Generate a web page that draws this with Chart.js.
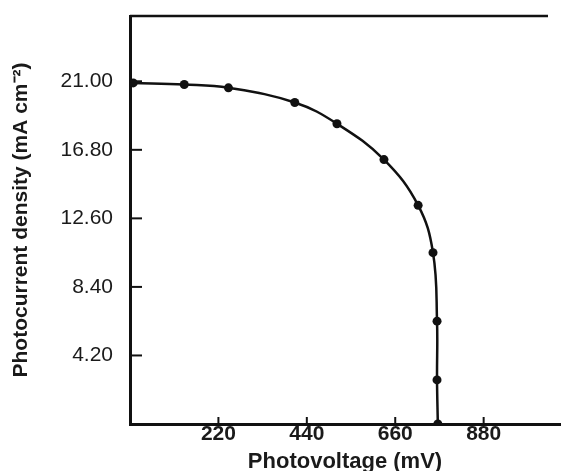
<!DOCTYPE html>
<html>
<head>
<meta charset="utf-8">
<script src="https://cdn.jsdelivr.net/npm/chart.js@4"></script>
<style>
  html, body { margin: 0; padding: 0; background: #fff; }
  #wrap { width: 570px; height: 471px; position: relative; }
</style>
</head>
<body>
<div id="wrap"><canvas id="chart"></canvas></div>
<script>
// J-V curve
const voltage = [8, 135, 245, 410, 515, 632, 717, 754, 764, 764, 766];
const current = [20.9, 20.8, 20.6, 19.7, 18.4, 16.2, 13.4, 10.5, 6.3, 2.7, 0];

const xTicks = [220, 440, 660, 880];
const yTicks = [4.2, 8.4, 12.6, 16.8, 21.0];

const ink = "#111";

// inward tick marks + open top frame line
const frame = {
  id: "frame",
  afterDraw(chart) {
    const { ctx, chartArea, scales } = chart;
    ctx.save();
    ctx.strokeStyle = ink;
    ctx.lineWidth = 2;
    yTicks.forEach(v => {
      const y = scales.y.getPixelForValue(v);
      ctx.beginPath();
      ctx.moveTo(chartArea.left, y);
      ctx.lineTo(chartArea.left + 12, y);
      ctx.stroke();
    });
    xTicks.forEach(v => {
      const x = scales.x.getPixelForValue(v);
      ctx.beginPath();
      ctx.moveTo(x, chartArea.bottom);
      ctx.lineTo(x, chartArea.bottom - 7);
      ctx.stroke();
    });
    ctx.lineWidth = 2.5;
    ctx.beginPath();
    ctx.moveTo(chartArea.left, chartArea.top);
    ctx.lineTo(chartArea.right - 12, chartArea.top);
    ctx.stroke();
    ctx.restore();
  }
};

new Chart(document.getElementById("chart"), {
  type: "scatter",
  data: {
    datasets: [{
      data: voltage.map((v, i) => ({ x: v, y: current[i] })),
      showLine: true,
      tension: 0.4,
      borderColor: ink,
      borderWidth: 2.5,
      backgroundColor: ink,
      pointRadius: 4.5,
      pointBorderWidth: 0,
    }],
  },
  options: {
    responsive: true,
    maintainAspectRatio: false,
    animation: false,
    layout: { padding: { top: 16, right: 10, left: 0, bottom: 0 } },
    plugins: { legend: { display: false }, tooltip: { enabled: false } },
    scales: {
      x: {
        type: "linear",
        min: 0,
        max: 1070,
        afterBuildTicks: s => { s.ticks = xTicks.map(v => ({ value: v })); },
        afterFit: s => { s.height = 47; s.paddingLeft = 0; s.paddingRight = 0; },
        grid: { drawOnChartArea: false, drawTicks: false },
        border: { color: ink, width: 3 },
        ticks: {
          padding: -2,
          color: "#1a1a1a",
          font: { family: "Liberation Sans, Arial", size: 21, weight: "bold" },
          callback: v => String(v),
        },
        title: {
          display: true,
          text: "Photovoltage (mV)",
          color: "#1a1a1a",
          font: { family: "Liberation Sans, Arial", size: 22, weight: "bold" },
          padding: { top: 0, bottom: -4 },
        },
      },
      y: {
        min: 0,
        max: 25,
        afterBuildTicks: s => { s.ticks = yTicks.map(v => ({ value: v })); },
        afterFit: s => { s.width = 130; s.paddingTop = 0; s.paddingBottom = 0; },
        grid: { drawOnChartArea: false, drawTicks: false },
        border: { color: ink, width: 3 },
        ticks: {
          padding: 17,
          color: "#1a1a1a",
          font: { family: "Liberation Sans, Arial", size: 21 },
          callback: v => v.toFixed(2),
        },
        title: {
          display: true,
          text: "Photocurrent density (mA cm⁻²)",
          color: "#1a1a1a",
          font: { family: "Liberation Sans, Arial", size: 21, weight: "bold" },
          padding: { top: 9, bottom: 0 },
        },
      },
    },
  },
  plugins: [frame],
});
</script>
</body>
</html>
